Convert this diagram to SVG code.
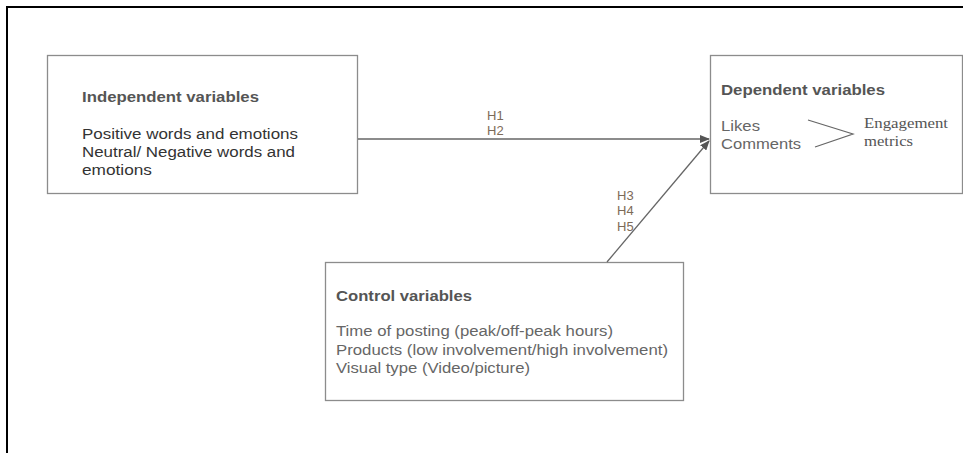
<svg xmlns="http://www.w3.org/2000/svg" width="963" height="453" viewBox="0 0 963 453">
<defs>
<style>
.box{fill:#fff;stroke:#8c8c8c;stroke-width:1.3}
.title{font-family:"Liberation Sans",Arial,sans-serif;font-size:15px;font-weight:bold;fill:#555}
.body{font-family:"Liberation Sans",Arial,sans-serif;font-size:15.5px;fill:#333}
.body2{font-family:"Liberation Sans",Arial,sans-serif;font-size:15.5px;fill:#666}
.hyp{font-family:"Liberation Sans",Arial,sans-serif;font-size:13px;fill:#7d6a58}
.serif{font-family:"Liberation Serif","Times New Roman",serif;font-size:15.5px;fill:#555}
.conn{stroke:#666;stroke-width:1.3;fill:none}
</style>
<marker id="arr" markerWidth="10" markerHeight="8" refX="9" refY="4" orient="auto" markerUnits="userSpaceOnUse">
<path d="M0,0 L10,4 L0,8 Z" fill="#555"/>
</marker>
</defs>
<rect width="963" height="453" fill="#fff"/>
<path d="M7,453 V7 H963" fill="none" stroke="#000" stroke-width="2"/>
<g id="independent">
<rect class="box" x="47.5" y="55.5" width="310" height="138"/>
<text class="title" x="82" y="102" textLength="177" lengthAdjust="spacingAndGlyphs">Independent variables</text>
<text class="body" x="82" y="139" textLength="216" lengthAdjust="spacingAndGlyphs">Positive words and emotions</text>
<text class="body" x="82" y="157" textLength="213" lengthAdjust="spacingAndGlyphs">Neutral/ Negative words and</text>
<text class="body" x="82" y="175" textLength="70" lengthAdjust="spacingAndGlyphs">emotions</text>
</g>
<g id="dependent">
<rect class="box" x="710.5" y="55.5" width="252" height="138"/>
<text class="title" x="721" y="95" textLength="164" lengthAdjust="spacingAndGlyphs">Dependent variables</text>
<text class="body2" x="721" y="131" textLength="39" lengthAdjust="spacingAndGlyphs">Likes</text>
<text class="body2" x="721" y="149" textLength="80" lengthAdjust="spacingAndGlyphs">Comments</text>
<path d="M808,120 L853,134 L815,147" fill="none" stroke="#666" stroke-width="1.2"/>
<text class="serif" x="864" y="128" textLength="84" lengthAdjust="spacingAndGlyphs">Engagement</text>
<text class="serif" x="864" y="146" textLength="49" lengthAdjust="spacingAndGlyphs">metrics</text>
</g>
<g id="control">
<rect class="box" x="325.5" y="262.5" width="358" height="138"/>
<text class="title" x="336" y="301" textLength="136" lengthAdjust="spacingAndGlyphs">Control variables</text>
<text class="body2" x="336" y="336" textLength="277" lengthAdjust="spacingAndGlyphs">Time of posting (peak/off-peak hours)</text>
<text class="body2" x="336" y="355" textLength="332" lengthAdjust="spacingAndGlyphs">Products (low involvement/high involvement)</text>
<text class="body2" x="336" y="373" textLength="194" lengthAdjust="spacingAndGlyphs">Visual type (Video/picture)</text>
</g>
<g id="connectors">
<line class="conn" x1="358" y1="139" x2="709" y2="139" marker-end="url(#arr)"/>
<line class="conn" x1="607" y1="262" x2="709" y2="141" marker-end="url(#arr)"/>
<text class="hyp" x="487" y="120">H1</text>
<text class="hyp" x="487" y="135">H2</text>
<text class="hyp" x="617" y="200">H3</text>
<text class="hyp" x="617" y="215">H4</text>
<text class="hyp" x="617" y="231">H5</text>
</g>
</svg>
